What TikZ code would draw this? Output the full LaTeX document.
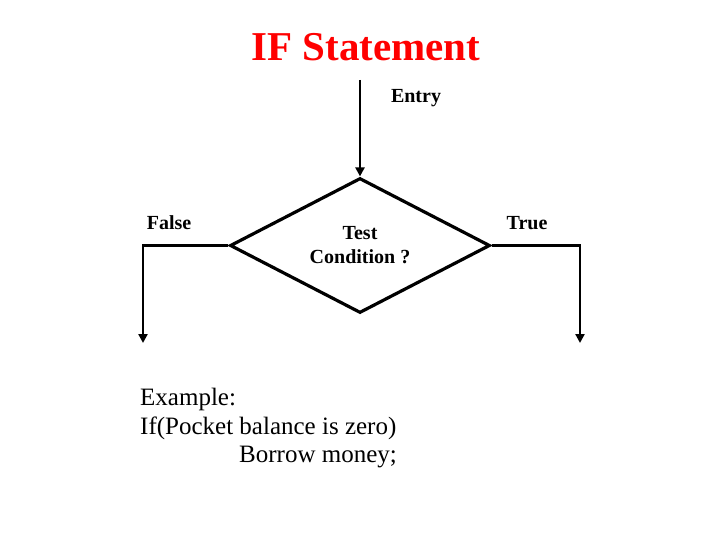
\documentclass[tikz,border=0pt]{standalone}
\usepackage{fontspec}
\setmainfont{Liberation Serif}
\usetikzlibrary{shapes.geometric,arrows.meta}
\begin{document}
\begin{tikzpicture}[x=1pt, y=-1pt,
    lbl/.style={font=\fontsize{20}{24}\selectfont\bfseries, inner sep=0pt},
    flow/.style={line width=2.6pt, -{Triangle[length=9pt,width=9pt]}},
    decision/.style={draw, line width=3.2pt, diamond, inner sep=0pt,
        minimum width=260pt, minimum height=135pt, shape aspect=1.93,
        align=center, font=\fontsize{20}{24}\selectfont\bfseries}]
\useasboundingbox (0,0) rectangle (720,540);
\node[red, font=\fontsize{41}{46}\selectfont\bfseries] (title) at (366,47) {IF Statement};
% the test
\node[decision] (cond) at (360,245.5) {Test\\Condition ?};
\coordinate (entry) at (360,80);
\coordinate (fend) at (143,343);
\coordinate (tend) at (580,343);
\draw[flow] (entry) -- (cond.north);
\draw[flow] (cond.west) -| (fend);
\draw[flow] (cond.east) -| (tend);
\node[lbl] (entrylbl) at (416,98) {Entry};
\node[lbl] (falselbl) at (169,223) {False};
\node[lbl] (truelbl) at (527,223) {True};
% example
\node[anchor=west, inner sep=0pt, font=\fontsize{25}{29}\selectfont] (ex1) at (140,399) {Example:};
\node[anchor=west, inner sep=0pt, font=\fontsize{25}{29}\selectfont] (ex2) at (140,428) {If(Pocket balance is zero)};
\node[anchor=west, inner sep=0pt, font=\fontsize{25}{29}\selectfont] (ex3) at (239,457) {Borrow money;};
\end{tikzpicture}
\end{document}
